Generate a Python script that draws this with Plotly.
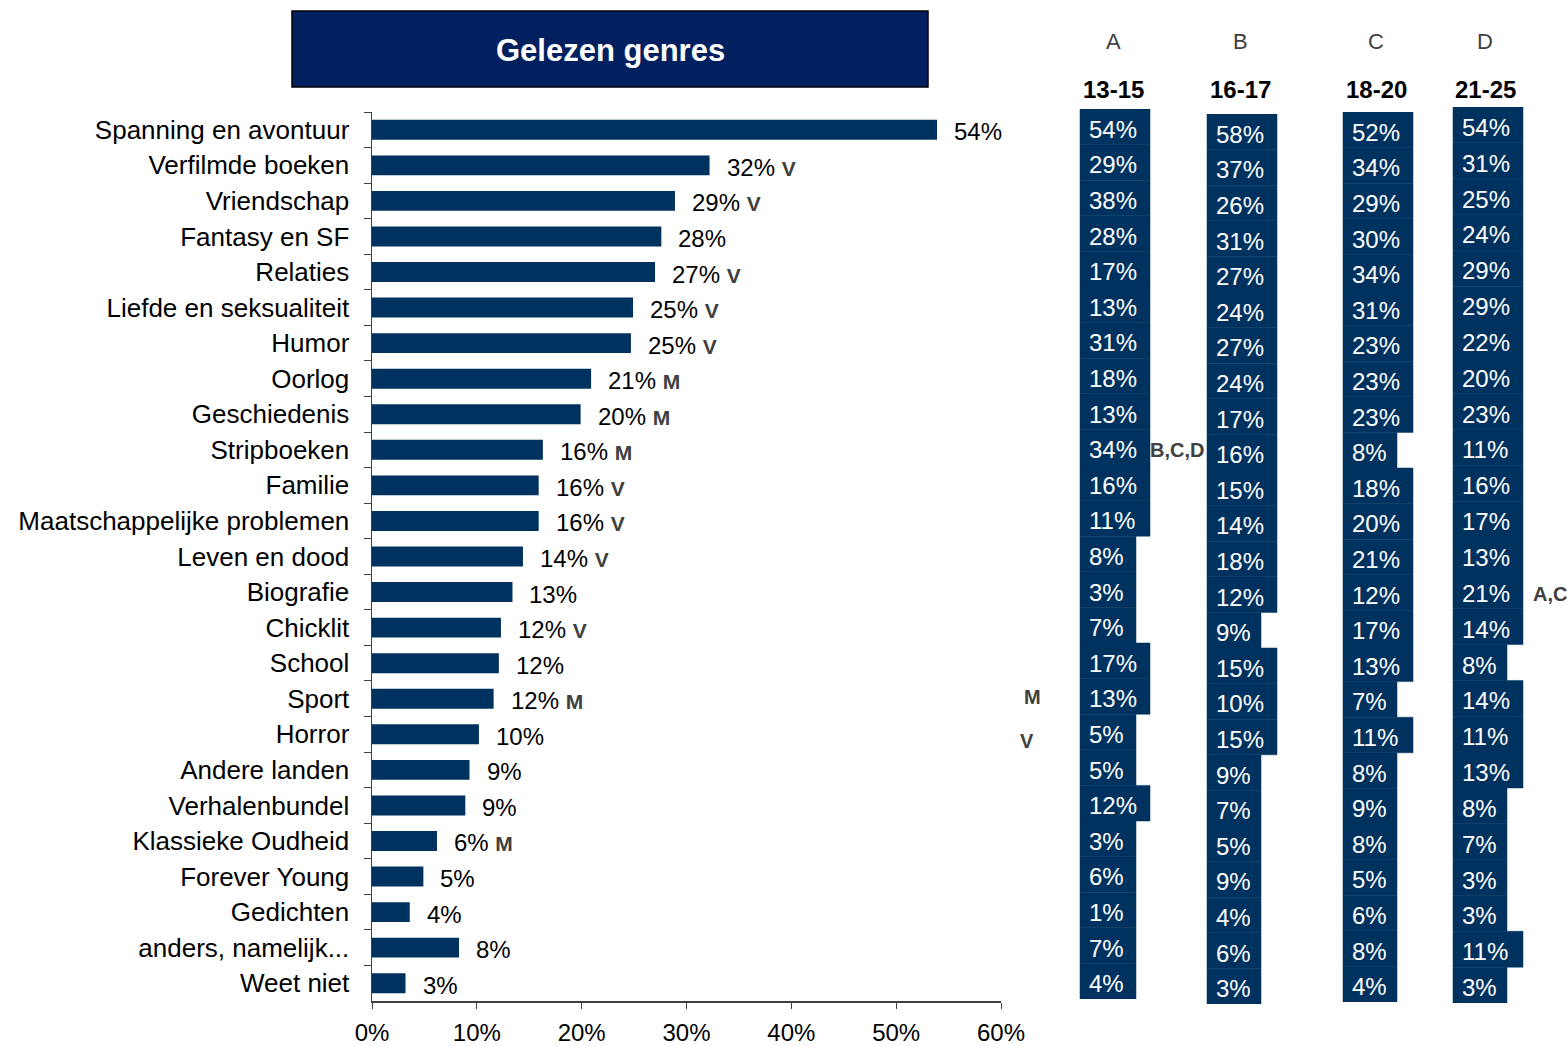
import plotly.graph_objects as go

# ---------------- data ----------------
categories = [
    "Spanning en avontuur", "Verfilmde boeken", "Vriendschap", "Fantasy en SF",
    "Relaties", "Liefde en seksualiteit", "Humor", "Oorlog", "Geschiedenis",
    "Stripboeken", "Familie", "Maatschappelijke problemen", "Leven en dood",
    "Biografie", "Chicklit", "School", "Sport", "Horror", "Andere landen",
    "Verhalenbundel", "Klassieke Oudheid", "Forever Young", "Gedichten",
    "anders, namelijk...", "Weet niet",
]
overall = [53.9, 32.2, 28.9, 27.6, 27.0, 24.9, 24.7, 20.9, 19.9, 16.3, 15.9, 15.9,
           14.4, 13.4, 12.3, 12.1, 11.6, 10.2, 9.3, 8.9, 6.2, 4.9, 3.6, 8.3, 3.2]
overall_sig = ["", "V", "V", "", "V", "V", "V", "M", "M", "M", "V", "V", "V",
               "", "V", "", "M", "", "", "", "M", "", "", "", ""]

col_letters = ["A", "B", "C", "D"]
col_ages = ["13-15", "16-17", "18-20", "21-25"]
col_A = [54, 29, 38, 28, 17, 13, 31, 18, 13, 34, 16, 11, 8, 3, 7, 17, 13, 5, 5, 12, 3, 6, 1, 7, 4]
col_B = [58, 37, 26, 31, 27, 24, 27, 24, 17, 16, 15, 14, 18, 12, 9, 15, 10, 15, 9, 7, 5, 9, 4, 6, 3]
col_C = [52, 34, 29, 30, 34, 31, 23, 23, 23, 8, 18, 20, 21, 12, 17, 13, 7, 11, 8, 9, 8, 5, 6, 8, 4]
col_D = [54, 31, 25, 24, 29, 29, 22, 20, 23, 11, 16, 17, 13, 21, 14, 8, 14, 11, 13, 8, 7, 3, 3, 11, 3]
sig_A = [""] * 9 + ["B,C,D"] + [""] * 15
sig_B = [""] * 25
sig_C = [""] * 25
sig_D = [""] * 13 + ["A,C"] + [""] * 11

x_tick_values = [0, 10, 20, 30, 40, 50, 60]
x_tick_text = [f"{v}%" for v in x_tick_values]
title_text = "Gelezen genres"

# ---------------- styling ----------------
W, H = 1567, 1046

def px(x):
    return min(max(x / W, 0), 1)

def py(y):
    return min(max(1 - y / H, 0), 1)

FONT = "Liberation Sans, Arial, sans-serif"
BAR = "#00325F"
CELL = "#00325F"
TITLE_BG = "#002060"
SIGC = "#404040"
AXC = "#404040"

col_left = [1080, 1207, 1343, 1453]
narrow_w = [56, 54, 54, 54]
wide_w = 70
col_dom = [(109, 999), (114, 1004), (112, 1002), (107, 1003)]
col_center = [1113, 1240, 1376, 1485]
sig_gap = [0, 0, 0, 10]
text_drop = 5   # cell text sits a little below row centre

n = len(categories)
cat_range = [n - 0.5, -0.5]

fig = go.Figure()

# main bars
fig.add_trace(go.Bar(
    x=overall, y=categories, orientation="h", width=0.56,
    marker=dict(color=BAR, line=dict(width=0)),
    xaxis="x", yaxis="y", hoverinfo="skip", showlegend=False,
))

annotations = []
for v, c, s in zip(overall, categories, overall_sig):
    t = f"{round(v)}%"
    if s:
        t += f" <span style='font-size:21px;color:{SIGC}'><b>{s}</b></span>"
    annotations.append(dict(
        x=v, y=c, xref="x", yref="y", xanchor="left", yanchor="middle",
        xshift=15, yshift=-2, text=t, showarrow=False,
        font=dict(family=FONT, size=24, color="black"),
    ))

# age-group columns
cols = [col_A, col_B, col_C, col_D]
sigs = [sig_A, sig_B, sig_C, sig_D]
for i, (vals, sg) in enumerate(zip(cols, sigs)):
    yax = f"y{i + 2}"
    ytx = f"y{i + 6}"
    widths = [wide_w if v >= 10 else narrow_w[i] for v in vals]
    fig.add_trace(go.Bar(
        x=widths, base=[col_left[i]] * len(vals), y=categories, orientation="h",
        width=1.0, marker=dict(color=CELL, line=dict(color=CELL, width=0.5)),
        xaxis="x2", yaxis=yax, hoverinfo="skip", showlegend=False,
    ))
    fig.add_trace(go.Scatter(
        x=[col_left[i] + 9] * len(vals), y=categories, mode="text",
        text=[f"{v}%" for v in vals], textposition="middle right",
        textfont=dict(family=FONT, size=24, color="white"),
        xaxis="x2", yaxis=ytx, hoverinfo="skip", showlegend=False, cliponaxis=False,
    ))
    fig.add_trace(go.Scatter(
        x=[col_left[i] + w + sig_gap[i] for w in widths], y=categories, mode="text",
        text=[f"<b>{s}</b>" for s in sg], textposition="middle right",
        textfont=dict(family=FONT, size=20, color=SIGC),
        xaxis="x2", yaxis=ytx, hoverinfo="skip", showlegend=False, cliponaxis=False,
    ))
    annotations.append(dict(
        x=px(col_center[i]), y=py(42), xref="paper", yref="paper",
        text=col_letters[i], showarrow=False, xanchor="center", yanchor="middle",
        font=dict(family=FONT, size=22, color=SIGC),
    ))
    annotations.append(dict(
        x=px(col_center[i]), y=py(89), xref="paper", yref="paper",
        text=f"<b>{col_ages[i]}</b>", showarrow=False, xanchor="center", yanchor="middle",
        font=dict(family=FONT, size=24, color="black"),
    ))

# stray significance letters between chart and columns
annotations.append(dict(x=px(1032), y=py(697), xref="paper", yref="paper", text="<b>M</b>",
                        showarrow=False, font=dict(family=FONT, size=20, color=SIGC)))
annotations.append(dict(x=px(1027), y=py(754), xref="paper", yref="paper", text="<b>V</b>",
                        showarrow=False, font=dict(family=FONT, size=20, color=SIGC)))

# title box
annotations.append(dict(
    x=px(610), y=py(50), xref="paper", yref="paper", text=f"<b>{title_text}</b>",
    showarrow=False, xanchor="center", yanchor="middle",
    font=dict(family=FONT, size=31, color="white"),
))
shapes = [dict(type="rect", xref="paper", yref="paper",
               x0=px(292), x1=px(928), y0=py(87), y1=py(11),
               fillcolor=TITLE_BG, line=dict(color="black", width=1.5), layer="below")]

x2_lo, x2_hi = 1000, W

layout = dict(
    width=W, height=H, autosize=False, margin=dict(l=0, r=0, t=0, b=0, pad=0),
    paper_bgcolor="white", plot_bgcolor="rgba(0,0,0,0)",
    font=dict(family=FONT, color="black"),
    showlegend=False,
    xaxis=dict(domain=[px(372), px(1001)], range=[0, 60], tickmode="array",
               tickvals=x_tick_values, ticktext=x_tick_text,
               ticks="outside", ticklen=6, tickcolor=AXC,
               showline=True, linecolor=AXC, linewidth=1.5, showgrid=False,
               zeroline=False, tickfont=dict(family=FONT, size=24, color="black"),
               ticklabelstandoff=4,
               anchor="y", fixedrange=True, automargin=False),
    yaxis=dict(domain=[py(1001), py(112)], range=cat_range, type="category",
               ticks="outside", tickson="boundaries", ticklen=7, tickcolor=AXC,
               showline=True, linecolor=AXC, linewidth=1.5, showgrid=False,
               tickfont=dict(family=FONT, size=26, color="black"),
               ticklabelstandoff=16, anchor="x", fixedrange=True, automargin=False),
    xaxis2=dict(domain=[px(x2_lo), px(x2_hi)], range=[x2_lo, x2_hi], visible=False,
                anchor="y2", fixedrange=True, automargin=False),
    annotations=annotations, shapes=shapes,
)
for i, (top, bot) in enumerate(col_dom):
    layout[f"yaxis{i + 2}"] = dict(domain=[py(bot), py(top)], range=cat_range,
                                   type="category", visible=False, anchor="x2",
                                   fixedrange=True, automargin=False)
    layout[f"yaxis{i + 6}"] = dict(domain=[py(bot + text_drop), py(top + text_drop)],
                                   range=cat_range, type="category", visible=False,
                                   anchor="x2", fixedrange=True, automargin=False)

fig.update_layout(**layout)
fig.write_html("out.html",
               config={"displayModeBar": False, "staticPlot": True},
               post_script="document.body.style.margin='0px';document.body.style.overflow='hidden';")
